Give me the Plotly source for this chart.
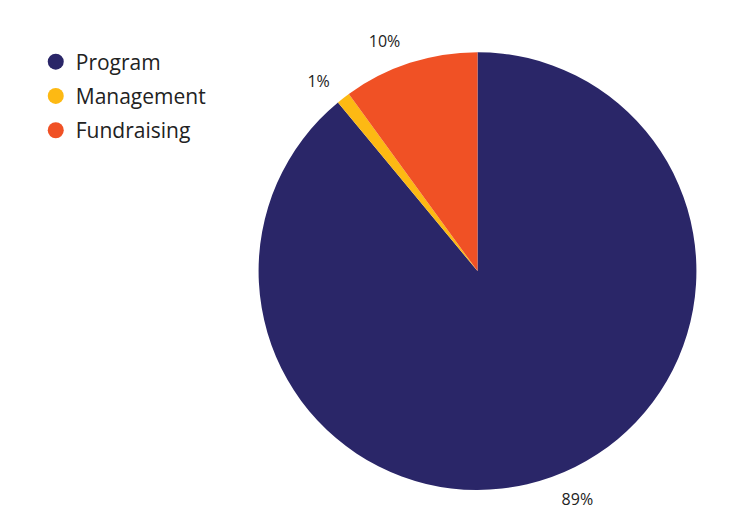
import plotly.graph_objects as go

categories = ["Program", "Management", "Fundraising"]
values = [89, 1, 10]
colors = ["#2A2668", "#FDB913", "#F05125"]

fig = go.Figure()

# the pie itself
fig.add_trace(go.Pie(
    labels=categories, values=values, sort=False, direction="clockwise", rotation=0,
    marker=dict(colors=colors, line=dict(width=0)),
    textinfo="none", showlegend=False, hoverinfo="label+percent",
    domain=dict(x=[0.334, 0.918], y=[0.094, 0.917]),
))

# same slices, transparent and a bit larger, only to push the % labels further out
fig.add_trace(go.Pie(
    labels=categories, values=values, sort=False, direction="clockwise", rotation=0,
    marker=dict(colors=["rgba(0,0,0,0)"] * 3, line=dict(width=0)),
    textinfo="percent", textposition="outside",
    textfont=dict(size=16, color="#222222", family="Open Sans"),
    showlegend=False, hoverinfo="skip",
    domain=dict(x=[0.3167, 0.9353], y=[0.0694, 0.9416]),
))

# legend entries with round markers
for name, col in zip(categories, colors):
    fig.add_trace(go.Scatter(
        x=[None], y=[None], mode="markers", name=name, legendgroup=name,
        marker=dict(color=col, size=18, symbol="circle"),
    ))

fig.update_layout(
    width=750, height=532,
    margin=dict(l=0, r=0, t=0, b=0),
    paper_bgcolor="white", plot_bgcolor="white",
    font=dict(family="Open Sans", color="#222222"),
    xaxis=dict(visible=False), yaxis=dict(visible=False),
    legend=dict(x=0.037, y=0.937, xanchor="left", yanchor="top",
                font=dict(size=21, color="#222222"), tracegroupgap=4,
                itemwidth=30, bgcolor="rgba(0,0,0,0)"),
)

fig.write_html("out.html")
